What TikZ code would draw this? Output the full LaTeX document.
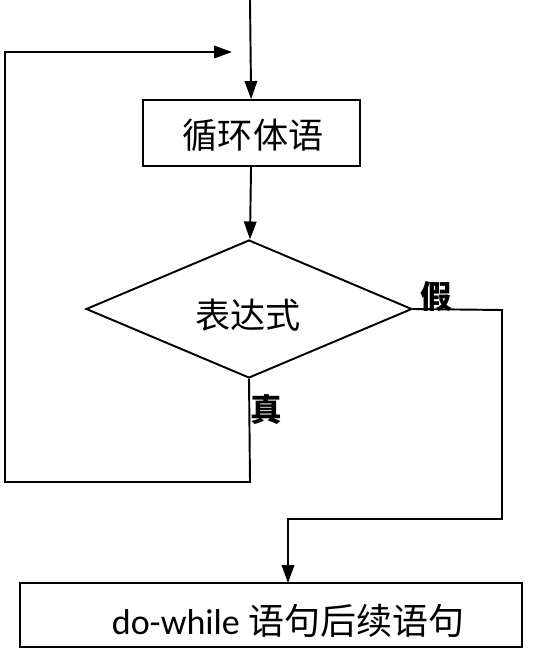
\documentclass[tikz,border=0pt]{standalone}
\usepackage{fontspec}
\setmainfont{Carlito}
\newfontfamily\cjk{Noto Sans CJK SC}
\usetikzlibrary{arrows.meta,shapes.geometric}

\tikzset{
	stepbox/.style={shape=rectangle,draw=black,line width=1.1pt,inner sep=0pt},
	decision/.style={shape=diamond,draw=black,line width=1.1pt,inner sep=0pt},
	flow/.style={line width=1.1pt},
	branch/.style={font=\cjk\bfseries\fontsize{18}{20}\selectfont}
}

\begin{document}
\begin{tikzpicture}[x=0.02cm,y=-0.02cm,>={Triangle[length=0.36cm,width=0.25cm]}]
	\useasboundingbox (0,0) rectangle (556,648);

	\node[stepbox,minimum width=4.34cm,minimum height=1.32cm] (body) at (251.5,133) {};
	\node[font=\cjk\fontsize{20}{22}\selectfont] (bodytext) at (253,135) {循环体语};
	\node[decision,minimum width=6.52cm,minimum height=2.76cm] (cond) at (249,309) {};
	\node[font=\cjk\fontsize{20}{22}\selectfont] (condtext) at (248,315) {表达式};
	\node[stepbox,minimum width=10.04cm,minimum height=1.28cm] (next) at (271,615) {};
	\node[font=\fontsize{20.5}{22}\selectfont] (nexttext) at (288,621) {do-while {\cjk 语句后续语句}};

	\node[branch] (no) at (436,297) {假};
	\node[branch] (yes) at (266,409) {真};

	\coordinate (top) at (250,0);
	\coordinate (back) at (232,52);

	\draw[flow,->] (top) -- (body);
	\draw[flow,->] (body) -- (cond);
	\draw[flow,->] (cond.east) -- (502,310) -- (502,519) -- (288,519) -- (288,583);
	\draw[flow,->] (cond.south) -- (250,482) -- (5,482) -- (5,52) -- (back);

\end{tikzpicture}
\end{document}
